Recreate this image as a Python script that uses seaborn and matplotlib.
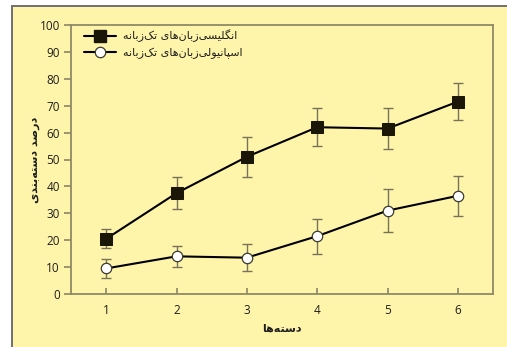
import numpy as np
import pandas as pd
import seaborn as sns
import matplotlib
matplotlib.use("Agg")
import matplotlib.pyplot as plt
from matplotlib.patches import Rectangle
from matplotlib.lines import Line2D

# ---- data -------------------------------------------------------------
groups = [1, 2, 3, 4, 5, 6]
english_mono = [20.5, 37.5, 51.0, 62.0, 61.5, 71.5]
english_err = [3.5, 6.0, 7.5, 7.0, 7.5, 7.0]
spanish_mono = [9.5, 14.0, 13.5, 21.5, 31.0, 36.5]
spanish_err = [3.5, 4.0, 5.0, 6.5, 8.0, 7.5]
label_english = "انگلیسی\u200cزبان\u200cهای تک\u200cزبانه"
label_spanish = "اسپانیولی\u200cزبان\u200cهای تک\u200cزبانه"
xlabel_text = "دسته\u200cها"
ylabel_text = "درصد دسته\u200cبندی"
yticks = [0, 10, 20, 30, 40, 50, 60, 70, 80, 90, 100]


# ---- minimal Persian shaping (matplotlib lays text out left-to-right) --
# forms: isolated, final, initial, medial (right-joining letters only have two)
FORMS = {
    "\u0627": (0xFE8D, 0xFE8E),
    "\u0622": (0xFE81, 0xFE82),
    "\u062F": (0xFEA9, 0xFEAA),
    "\u0630": (0xFEAB, 0xFEAC),
    "\u0631": (0xFEAD, 0xFEAE),
    "\u0632": (0xFEAF, 0xFEB0),
    "\u0698": (0xFB8A, 0xFB8B),
    "\u0648": (0xFEED, 0xFEEE),
    "\u0628": (0xFE8F, 0xFE90, 0xFE91, 0xFE92),
    "\u067E": (0xFB56, 0xFB57, 0xFB58, 0xFB59),
    "\u062A": (0xFE95, 0xFE96, 0xFE97, 0xFE98),
    "\u062B": (0xFE99, 0xFE9A, 0xFE9B, 0xFE9C),
    "\u062C": (0xFE9D, 0xFE9E, 0xFE9F, 0xFEA0),
    "\u0686": (0xFB7A, 0xFB7B, 0xFB7C, 0xFB7D),
    "\u062D": (0xFEA1, 0xFEA2, 0xFEA3, 0xFEA4),
    "\u062E": (0xFEA5, 0xFEA6, 0xFEA7, 0xFEA8),
    "\u0633": (0xFEB1, 0xFEB2, 0xFEB3, 0xFEB4),
    "\u0634": (0xFEB5, 0xFEB6, 0xFEB7, 0xFEB8),
    "\u0635": (0xFEB9, 0xFEBA, 0xFEBB, 0xFEBC),
    "\u0636": (0xFEBD, 0xFEBE, 0xFEBF, 0xFEC0),
    "\u0637": (0xFEC1, 0xFEC2, 0xFEC3, 0xFEC4),
    "\u0638": (0xFEC5, 0xFEC6, 0xFEC7, 0xFEC8),
    "\u0639": (0xFEC9, 0xFECA, 0xFECB, 0xFECC),
    "\u063A": (0xFECD, 0xFECE, 0xFECF, 0xFED0),
    "\u0641": (0xFED1, 0xFED2, 0xFED3, 0xFED4),
    "\u0642": (0xFED5, 0xFED6, 0xFED7, 0xFED8),
    "\u06A9": (0xFB8E, 0xFB8F, 0xFB90, 0xFB91),
    "\u06AF": (0xFB92, 0xFB93, 0xFB94, 0xFB95),
    "\u0644": (0xFEDD, 0xFEDE, 0xFEDF, 0xFEE0),
    "\u0645": (0xFEE1, 0xFEE2, 0xFEE3, 0xFEE4),
    "\u0646": (0xFEE5, 0xFEE6, 0xFEE7, 0xFEE8),
    "\u0647": (0xFEE9, 0xFEEA, 0xFEEB, 0xFEEC),
    "\u06CC": (0xFBFC, 0xFBFD, 0xFBFE, 0xFBFF),
}


def shape_rtl(text):
    chars = list(text)
    out = []
    for i, c in enumerate(chars):
        if c not in FORMS:
            if c != "\u200c":
                out.append(c)
            continue
        prev = chars[i - 1] if i > 0 else None
        nxt = chars[i + 1] if i + 1 < len(chars) else None
        joins_prev = prev in FORMS and len(FORMS[prev]) == 4
        joins_next = len(FORMS[c]) == 4 and nxt in FORMS
        f = FORMS[c]
        if joins_prev and joins_next:
            out.append(chr(f[3]))
        elif joins_prev:
            out.append(chr(f[1]))
        elif joins_next:
            out.append(chr(f[2]))
        else:
            out.append(chr(f[0]))
    return "".join(reversed(out))


# ---- styling ----------------------------------------------------------
sns.set_theme(style="ticks")
plt.rcParams["font.family"] = ["DejaVu Sans"]

panel = "#fff5aa"
spine_col = "#8f8a68"
err_col = "#77735a"
text_col = "#1e1e1e"

W, H = 507, 347
fig = plt.figure(figsize=(W / 100, H / 100), dpi=100)
fig.patch.set_facecolor("white")

# yellow panel with a grey rule along its left and top edges
x0, y_top = 11.5 / W, 1 - 5.5 / H
fig.patches.append(Rectangle((x0, 0), 1 - x0, y_top, transform=fig.transFigure,
                             facecolor=panel, edgecolor="none", zorder=-5))
fig.lines.append(Line2D([x0, x0], [0, y_top], transform=fig.transFigure,
                        color="#6f6f6f", linewidth=1.4, zorder=-4))
fig.lines.append(Line2D([x0, 1], [y_top, y_top], transform=fig.transFigure,
                        color="#6f6f6f", linewidth=1.4, zorder=-4))

ax = fig.add_axes([71 / W, 53 / H, 422 / W, 269 / H])
ax.set_facecolor("none")
ax.set_zorder(2)

df = pd.DataFrame({
    "group": groups * 2,
    "value": english_mono + spanish_mono,
    "series": ["en"] * len(groups) + ["es"] * len(groups),
})

for vals, errs in ((english_mono, english_err), (spanish_mono, spanish_err)):
    ax.errorbar(groups, vals, yerr=errs, fmt="none", ecolor=err_col,
                elinewidth=1.0, capsize=3.6, capthick=1.0, zorder=2)

sns.lineplot(data=df[df.series == "en"], x="group", y="value", ax=ax,
             color="black", linewidth=1.5, marker="s", markersize=8.5,
             markerfacecolor="#1a1708", markeredgecolor="#1a1708",
             zorder=3, legend=False)
sns.lineplot(data=df[df.series == "es"], x="group", y="value", ax=ax,
             color="black", linewidth=1.5, marker="o", markersize=7.5,
             markerfacecolor="white", markeredgecolor="#3a3a30",
             markeredgewidth=0.9, zorder=3, legend=False)

ax.set_xlim(0.5, 6.5)
ax.set_ylim(0, 100)
ax.set_xticks(groups)
ax.set_yticks(yticks)
ax.tick_params(axis="x", direction="in", length=4, color=spine_col,
               labelsize=8.5, pad=7, labelcolor=text_col)
ax.tick_params(axis="y", direction="out", length=5, color=spine_col,
               labelsize=8.5, pad=3, labelcolor=text_col)
for lab in ax.get_xticklabels() + ax.get_yticklabels():
    lab.set_fontfamily(["Open Sans", "DejaVu Sans"])
for s in ax.spines.values():
    s.set_color(spine_col)
    s.set_linewidth(1.3)

ax.set_xlabel(shape_rtl(xlabel_text), fontsize=8, fontweight="bold",
              labelpad=5, color=text_col)
ax.set_ylabel(shape_rtl(ylabel_text), fontsize=8, fontweight="bold",
              labelpad=0, color=text_col)

handles = [
    Line2D([], [], color="black", linewidth=1.5, marker="s", markersize=8.5,
           markerfacecolor="#1a1708", markeredgecolor="#1a1708"),
    Line2D([], [], color="black", linewidth=1.5, marker="o", markersize=7.5,
           markerfacecolor="white", markeredgecolor="#3a3a30",
           markeredgewidth=0.9),
]
ax.legend(handles, [shape_rtl(label_english), shape_rtl(label_spanish)],
          loc="upper left", bbox_to_anchor=(0.012, 1.012), frameon=False,
          fontsize=8, handlelength=2.9, handletextpad=0.6, labelspacing=0.45,
          borderaxespad=0.3, borderpad=0.4, labelcolor=text_col)

fig.savefig("out.png", dpi=100, facecolor=fig.get_facecolor())
